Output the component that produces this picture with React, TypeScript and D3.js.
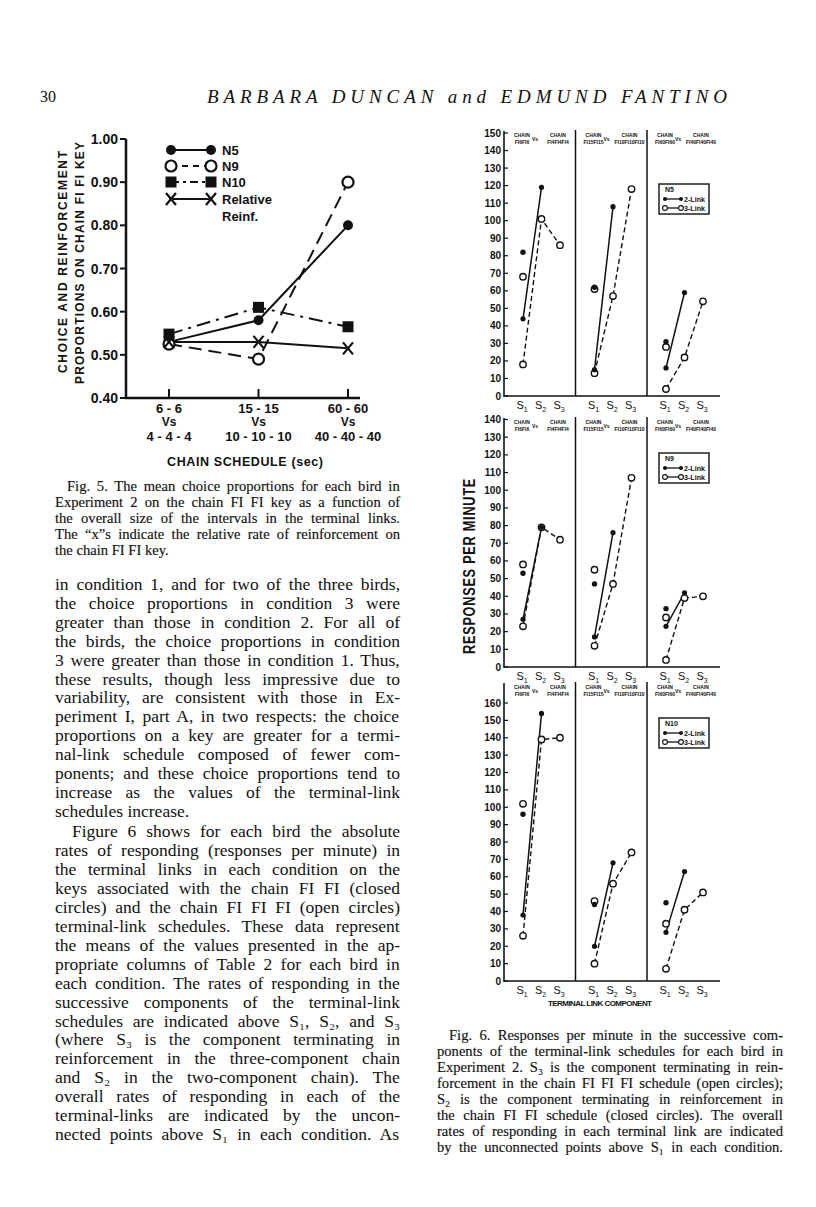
import React from "react";
import * as d3 from "d3";

// ---------------- Fig. 5 data ----------------
const fig5TopLabels = ["6 - 6", "15 - 15", "60 - 60"];
const fig5BottomLabels = ["4 - 4 - 4", "10 - 10 - 10", "40 - 40 - 40"];
const fig5Ticks = [0.4, 0.5, 0.6, 0.7, 0.8, 0.9, 1.0];
const n5Choice = [0.53, 0.58, 0.8];
const n9Choice = [0.525, 0.49, 0.9];
const n10Choice = [0.548, 0.61, 0.565];
const relReinf = [0.53, 0.53, 0.515];

// ---------------- Fig. 6 data ----------------
const components = ["1", "2", "3"];
const panelFirst = ["FI6FI6", "FI15FI15", "FI60FI60"];
const panelSecond = ["FI4FI4FI4", "FI10FI10FI10", "FI40FI40FI40"];

const n5TwoLink = [[44, 119], [15, 108], [16, 59]];
const n5ThreeLink = [[18, 101, 86], [13, 57, 118], [4, 22, 54]];
const n5OverallClosed = [82, 62, 31];
const n5OverallOpen = [68, 61, 28];

const n9TwoLink = [[27, 79], [17, 76], [23, 42]];
const n9ThreeLink = [[23, 79, 72], [12, 47, 107], [4, 39, 40]];
const n9OverallClosed = [53, 47, 33];
const n9OverallOpen = [58, 55, 28];

const n10TwoLink = [[38, 154], [20, 68], [28, 63]];
const n10ThreeLink = [[26, 139, 140], [10, 56, 74], [7, 41, 51]];
const n10OverallClosed = [96, 44, 45];
const n10OverallOpen = [102, 46, 33];

const n5Ticks = d3.range(0, 151, 10);
const n9Ticks = d3.range(0, 141, 10);
const n10Ticks = d3.range(0, 161, 10);

// ---------------- Text ----------------
const headerNumber = "30";
const headerTitle = "BARBARA DUNCAN and EDMUND FANTINO";

const fig5Caption = [
  "Fig. 5. The mean choice proportions for each bird in",
  "Experiment 2 on the chain FI FI key as a function of",
  "the overall size of the intervals in the terminal links.",
  "The \u201Cx\u201Ds indicate the relative rate of reinforcement on",
  "the chain FI FI key.",
];

const bodyPara1 = [
  "in condition 1, and for two of the three birds,",
  "the choice proportions in condition 3 were",
  "greater than those in condition 2. For all of",
  "the birds, the choice proportions in condition",
  "3 were greater than those in condition 1. Thus,",
  "these results, though less impressive due to",
  "variability, are consistent with those in Ex-",
  "periment I, part A, in two respects: the choice",
  "proportions on a key are greater for a termi-",
  "nal-link schedule composed of fewer com-",
  "ponents; and these choice proportions tend to",
  "increase as the values of the terminal-link",
  "schedules increase.",
];
const bodyPara2 = [
  "Figure 6 shows for each bird the absolute",
  "rates of responding (responses per minute) in",
  "the terminal links in each condition on the",
  "keys associated with the chain FI FI (closed",
  "circles) and the chain FI FI FI (open circles)",
  "terminal-link schedules. These data represent",
  "the means of the values presented in the ap-",
  "propriate columns of Table 2 for each bird in",
  "each condition. The rates of responding in the",
  "successive components of the terminal-link",
  "schedules are indicated above S\u2081, S\u2082, and S\u2083",
  "(where S\u2083 is the component terminating in",
  "reinforcement in the three-component chain",
  "and S\u2082 in the two-component chain). The",
  "overall rates of responding in each of the",
  "terminal-links are indicated by the uncon-",
  "nected points above S\u2081 in each condition. As",
];

const fig6Caption = [
  "Fig. 6. Responses per minute in the successive com-",
  "ponents of the terminal-link schedules for each bird in",
  "Experiment 2. S\u2083 is the component terminating in rein-",
  "forcement in the chain FI FI FI schedule (open circles);",
  "S\u2082 is the component terminating in reinforcement in",
  "the chain FI FI schedule (closed circles). The overall",
  "rates of responding in each terminal link are indicated",
  "by the unconnected points above S\u2081 in each condition.",
];

const SERIF = "'Liberation Serif', 'DejaVu Serif', serif";
const SANS = "'Liberation Sans', Arial, sans-serif";

let measureCtx: CanvasRenderingContext2D | null = null;
function measure(txt: string, size: number, family: string) {
  if (!measureCtx) {
    const c = document.createElement("canvas");
    measureCtx = c.getContext("2d");
  }
  if (!measureCtx) return txt.length * size * 0.45;
  measureCtx.font = `${size}px ${family}`;
  return measureCtx.measureText(txt).width;
}

function TextBlock({ lines, x, y, width, lh, size, indent = 0, justifyLast = false, bold = 0 }: any) {
  return (
    <g fontFamily={SERIF} fontSize={size} fill="#111" stroke={bold ? "#111" : "none"} strokeWidth={bold}>
      {lines.map((l: string, i: number) => {
        const isLast = i === lines.length - 1;
        const ind = i === 0 ? indent : 0;
        const just = !isLast || justifyLast;
        let ws = 0;
        if (just) {
          const nat = measure(l, size, SERIF);
          const spaces = (l.match(/ /g) || []).length;
          ws = spaces ? (width - ind - nat) / spaces : 0;
        }
        return (
          <text key={i} x={x + ind} y={y + i * lh} wordSpacing={ws ? ws.toFixed(2) : undefined}>
            {l}
          </text>
        );
      })}
    </g>
  );
}

// ---------------- Fig. 5 ----------------
function Fig5() {
  const y = d3.scaleLinear().domain([0.4, 1.0]).range([398, 139]);
  const x = d3.scalePoint<number>().domain([0, 1, 2]).range([169, 348]);
  const axisX = 126;
  const line = d3
    .line<number>()
    .x((_, i) => x(i) as number)
    .y((d) => y(d));
  const series = [
    { vals: n5Choice, dash: undefined, mark: "dot" },
    { vals: n9Choice, dash: "13,7", mark: "open" },
    { vals: n10Choice, dash: "14,6,3,6", mark: "square" },
    { vals: relReinf, dash: undefined, mark: "x" },
  ];
  const marker = (m: string, cx: number, cy: number, k: string) => {
    if (m === "dot") return <circle key={k} cx={cx} cy={cy} r={5} fill="#111" />;
    if (m === "open")
      return <circle key={k} cx={cx} cy={cy} r={5.5} fill="#fff" stroke="#111" strokeWidth={2.2} />;
    if (m === "square") return <rect key={k} x={cx - 5.5} y={cy - 5.5} width={11} height={11} fill="#111" />;
    return (
      <g key={k} stroke="#111" strokeWidth={2.2}>
        <line x1={cx - 5} y1={cy - 6} x2={cx + 5} y2={cy + 6} />
        <line x1={cx - 5} y1={cy + 6} x2={cx + 5} y2={cy - 6} />
      </g>
    );
  };
  const legendNames = ["N5", "N9", "N10", "Relative"];
  const legendY = [150, 166, 182, 199];
  return (
    <g>
      <line x1={axisX} y1={139} x2={axisX} y2={399} stroke="#111" strokeWidth={2.5} />
      <line x1={axisX - 1} y1={398} x2={360} y2={398} stroke="#111" strokeWidth={2.5} />
      {fig5Ticks.map((t) => (
        <g key={t}>
          <line x1={axisX - 6} x2={axisX} y1={y(t)} y2={y(t)} stroke="#111" strokeWidth={2} />
          <text x={axisX - 8} y={y(t) + 5} textAnchor="end" fontFamily={SANS} fontWeight="bold" fontSize={14} fill="#111">
            {t.toFixed(2)}
          </text>
        </g>
      ))}
      {[0, 1, 2].map((i) => (
        <g key={i} fontFamily={SANS} fontWeight="bold" fill="#111" textAnchor="middle">
          <line x1={x(i)} x2={x(i)} y1={398} y2={389} stroke="#111" strokeWidth={2} />
          <text x={x(i)} y={413} fontSize={13}>{fig5TopLabels[i]}</text>
          <text x={x(i)} y={426} fontSize={12}>Vs</text>
          <text x={x(i)} y={441} fontSize={13}>{fig5BottomLabels[i]}</text>
        </g>
      ))}
      <text x={245} y={466} textAnchor="middle" fontFamily={SANS} fontWeight="bold" fontSize={12.5} fill="#111" textLength={156} lengthAdjust="spacing">
        CHAIN SCHEDULE (sec)
      </text>
      <g fontFamily={SANS} fontWeight="bold" fontSize={12} fill="#111" textAnchor="middle">
        <text transform="translate(67,262) rotate(-90)" textLength={222} lengthAdjust="spacing">
          CHOICE AND REINFORCEMENT
        </text>
        <text transform="translate(84,263) rotate(-90)" textLength={242} lengthAdjust="spacing">
          PROPORTIONS ON CHAIN FI FI KEY
        </text>
      </g>
      {series.map((s, si) => (
        <path key={si} d={line(s.vals) as string} fill="none" stroke="#111" strokeWidth={2} strokeDasharray={s.dash} />
      ))}
      {series.map((s, si) => s.vals.map((v, i) => marker(s.mark, x(i) as number, y(v), `${si}-${i}`)))}
      {series.map((s, si) => (
        <g key={si}>
          <line x1={171} x2={211} y1={legendY[si]} y2={legendY[si]} stroke="#111" strokeWidth={2} strokeDasharray={s.dash ? (si === 1 ? "6,5" : "8,4,3,4") : undefined} />
          {marker(s.mark, 171, legendY[si], "a")}
          {marker(s.mark, 211, legendY[si], "b")}
          <text x={222} y={legendY[si] + 5} fontFamily={SANS} fontWeight="bold" fontSize={13} fill="#111">
            {legendNames[si]}
          </text>
        </g>
      ))}
      <text x={222} y={221} fontFamily={SANS} fontWeight="bold" fontSize={13} fill="#111">Reinf.</text>
    </g>
  );
}

// ---------------- Fig. 6 ----------------
type RowSpec = {
  bird: string;
  two: number[][];
  three: number[][];
  closed: number[];
  open: number[];
  ticks: number[];
  top: number;
  base: number;
  topVal: number;
  valPx: number;
  headerY: number;
  legendY: number;
};

const rows: RowSpec[] = [
  { bird: "N5", two: n5TwoLink, three: n5ThreeLink, closed: n5OverallClosed, open: n5OverallOpen, ticks: n5Ticks, top: 131, base: 396, topVal: 150, valPx: 133, headerY: 137, legendY: 184 },
  { bird: "N9", two: n9TwoLink, three: n9ThreeLink, closed: n9OverallClosed, open: n9OverallOpen, ticks: n9Ticks, top: 418, base: 667, topVal: 140, valPx: 419.5, headerY: 424, legendY: 453 },
  { bird: "N10", two: n10TwoLink, three: n10ThreeLink, closed: n10OverallClosed, open: n10OverallOpen, ticks: n10Ticks, top: 683, base: 981, topVal: 160, valPx: 703, headerY: 689, legendY: 718 },
];

function Fig6Row({ r, last }: { r: RowSpec; last: boolean }) {
  const axisX = 504;
  const y = d3.scaleLinear().domain([0, r.topVal]).range([r.base, r.valPx]);
  const band = d3.scaleBand<number>().domain([0, 1, 2]).range([axisX, 718.5]);
  const comp = d3.scalePoint<string>().domain(components).range([19, 56]);
  const xAt = (p: number, c: number) => (band(p) as number) + (comp(components[c]) as number);
  const ln = (p: number) =>
    d3
      .line<number>()
      .x((_, i) => xAt(p, i))
      .y((d) => y(d));
  const lx = 659;
  return (
    <g>
      <line x1={axisX} x2={axisX} y1={r.top} y2={r.base + 1} stroke="#111" strokeWidth={1.6} />
      <line x1={axisX} x2={720} y1={r.base} y2={r.base} stroke="#111" strokeWidth={1.6} />
      {[1, 2].map((p) => (
        <line key={p} x1={band(p)} x2={band(p)} y1={r.top - 1} y2={r.base} stroke="#111" strokeWidth={1.5} />
      ))}
      {r.ticks.map((t) => (
        <g key={t}>
          <line x1={axisX} x2={axisX + 4} y1={y(t)} y2={y(t)} stroke="#111" strokeWidth={1.2} />
          <text x={axisX - 3} y={y(t) + 3.5} textAnchor="end" fontFamily={SANS} fontWeight="bold" fontSize={10} fill="#111">
            {t}
          </text>
        </g>
      ))}
      {[0, 1, 2].map((p) => (
        <g key={p} fontFamily={SANS} fontWeight="bold" fill="#111" textAnchor="middle">
          <text x={(band(p) as number) + 18} y={r.headerY} fontSize={5}>CHAIN</text>
          <text x={(band(p) as number) + 18} y={r.headerY + 6.5} fontSize={5}>{panelFirst[p]}</text>
          <text x={(band(p) as number) + 31} y={r.headerY + 4} fontSize={5}>Vs</text>
          <text x={(band(p) as number) + 54} y={r.headerY} fontSize={5}>CHAIN</text>
          <text x={(band(p) as number) + 54} y={r.headerY + 6.5} fontSize={5}>{panelSecond[p]}</text>
          {components.map((c, ci) => (
            <text key={c} x={xAt(p, ci) - 1} y={r.base + 13} fontSize={11} fontWeight="normal">
              S<tspan dy={2.5} fontSize={7}>{c}</tspan>
            </text>
          ))}
        </g>
      ))}
      {[0, 1, 2].map((p) => (
        <g key={p} fill="none" stroke="#111">
          <path d={ln(p)(r.two[p]) as string} strokeWidth={1.5} />
          <path d={ln(p)(r.three[p]) as string} strokeWidth={1.4} strokeDasharray="5,3" />
        </g>
      ))}
      {[0, 1, 2].map((p) => (
        <g key={p}>
          {r.three[p].map((v, i) => (
            <circle key={"o" + i} cx={xAt(p, i)} cy={y(v)} r={3.2} fill="#fff" stroke="#111" strokeWidth={1.4} />
          ))}
          {r.two[p].map((v, i) => (
            <circle key={"c" + i} cx={xAt(p, i)} cy={y(v)} r={2.6} fill="#111" />
          ))}
          <circle cx={xAt(p, 0)} cy={y(r.open[p])} r={3.2} fill="#fff" stroke="#111" strokeWidth={1.4} />
          <circle cx={xAt(p, 0)} cy={y(r.closed[p])} r={2.7} fill="#111" />
        </g>
      ))}
      <g fontFamily={SANS} fontWeight="bold" fill="#111">
        <rect x={lx} y={r.legendY} width={50} height={30} fill="#fff" stroke="#111" strokeWidth={1.4} />
        <text x={lx + 6} y={r.legendY + 8} fontSize={7}>{r.bird}</text>
        <line x1={lx + 6} x2={lx + 22} y1={r.legendY + 15} y2={r.legendY + 15} stroke="#111" strokeWidth={1.3} />
        <circle cx={lx + 6} cy={r.legendY + 15} r={2} fill="#111" />
        <circle cx={lx + 22} cy={r.legendY + 15} r={2} fill="#111" />
        <text x={lx + 25} y={r.legendY + 17.5} fontSize={7} textLength={21} lengthAdjust="spacingAndGlyphs">2-Link</text>
        <line x1={lx + 6} x2={lx + 22} y1={r.legendY + 24} y2={r.legendY + 24} stroke="#111" strokeWidth={1.3} />
        <circle cx={lx + 6} cy={r.legendY + 24} r={2.4} fill="#fff" stroke="#111" strokeWidth={1.1} />
        <circle cx={lx + 22} cy={r.legendY + 24} r={2.4} fill="#fff" stroke="#111" strokeWidth={1.1} />
        <text x={lx + 25} y={r.legendY + 26.5} fontSize={7} textLength={21} lengthAdjust="spacingAndGlyphs">3-Link</text>
      </g>
      {last && (
        <text x={600} y={1006} textAnchor="middle" fontFamily={SANS} fontWeight="bold" fontSize={8} fill="#111" textLength={104} lengthAdjust="spacing">
          TERMINAL LINK COMPONENT
        </text>
      )}
    </g>
  );
}

function Fig6() {
  return (
    <g>
      {rows.map((r, i) => (
        <Fig6Row key={r.bird} r={r} last={i === rows.length - 1} />
      ))}
      <text transform="translate(475,566) rotate(-90)" textAnchor="middle" fontFamily={SANS} fontWeight="bold" fontSize={17} fill="#111" textLength={176} lengthAdjust="spacingAndGlyphs" letterSpacing={1}>
        RESPONSES PER MINUTE
      </text>
    </g>
  );
}

export default function App() {
  return (
    <svg
      width={816}
      height={1207}
      viewBox="0 0 816 1207"
      style={{ position: "absolute", left: 0, top: 0, background: "#fff", display: "block" }}
    >
      <rect width={816} height={1207} fill="#fff" />
      <text x={40} y={102} fontFamily={SERIF} fontSize={16} fill="#111">{headerNumber}</text>
      <text x={207} y={103} fontFamily={SERIF} fontStyle="italic" fontSize={19} fill="#111" textLength={520} lengthAdjust="spacing">
        {headerTitle}
      </text>
      <Fig5 />
      <TextBlock lines={fig5Caption} x={55} y={491} width={345} lh={16} size={14.6} indent={12} bold={0.15} />
      <TextBlock lines={bodyPara1} x={55} y={590} width={345} lh={18.9} size={17.5} />
      <TextBlock lines={bodyPara2} x={55} y={837} width={345} lh={18.95} size={17.5} indent={17} justifyLast={true} />
      <Fig6 />
      <TextBlock lines={fig6Caption} x={437} y={1040} width={346} lh={16} size={14.6} indent={12} justifyLast={true} bold={0.15} />
    </svg>
  );
}
